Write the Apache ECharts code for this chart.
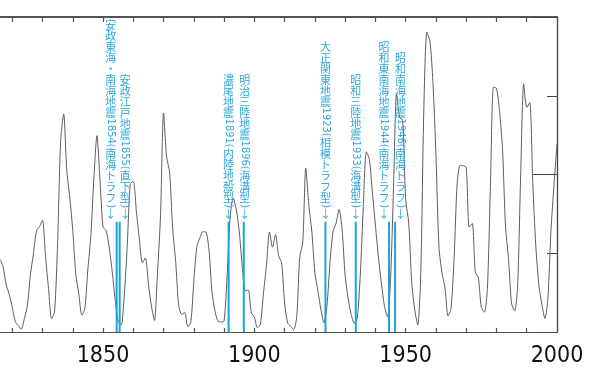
<!DOCTYPE html>
<html><head><meta charset="utf-8">
<script src="https://cdn.jsdelivr.net/npm/echarts@6/dist/echarts.min.js"></script>
<style>html,body{margin:0;padding:0;background:#fff}#c{width:605px;height:381px}</style>
</head><body><div id="c"></div>
<script>
// Yearly mean sunspot numbers, 1810-2000
const startYear = 1810;
const sunspots = [
  0.0, 1.4, 5.0, 12.2, 13.9, 35.4, 45.8, 41.1, 30.1, 23.9,
  15.6, 6.6, 4.0, 1.8, 8.5, 16.6, 36.3, 49.6, 64.2, 67.0,
  70.9, 47.8, 27.5, 8.5, 13.2, 56.9, 121.5, 138.3, 103.2, 85.7,
  64.6, 36.7, 24.2, 10.7, 15.0, 40.1, 61.5, 98.5, 124.7, 96.3,
  66.6, 64.5, 54.1, 39.0, 20.6, 6.7, 4.3, 22.7, 54.8, 93.8,
  95.8, 77.2, 59.1, 44.0, 47.0, 30.5, 16.3, 7.3, 37.6, 74.0,
  139.0, 111.2, 101.6, 66.2, 44.7, 17.0, 11.3, 12.4, 3.4, 6.0,
  32.3, 54.3, 59.7, 63.7, 63.5, 52.2, 25.4, 13.1, 6.8, 6.3,
  7.1, 35.6, 73.0, 85.1, 78.0, 64.0, 41.8, 26.2, 26.7, 12.1,
  9.5, 2.7, 5.0, 24.4, 42.0, 63.5, 53.8, 62.0, 48.5, 43.9,
  18.6, 5.7, 3.6, 1.4, 9.6, 47.4, 57.1, 103.9, 80.6, 63.6,
  37.6, 26.1, 14.2, 5.8, 16.7, 44.3, 63.9, 69.0, 77.8, 64.9,
  35.7, 21.2, 11.1, 5.7, 8.7, 36.1, 79.7, 114.4, 109.6, 88.8,
  67.8, 47.5, 30.6, 16.3, 9.6, 33.2, 92.6, 151.6, 136.3, 134.7,
  83.9, 69.4, 31.5, 13.9, 4.4, 38.0, 141.7, 190.2, 184.8, 159.0,
  112.3, 53.9, 37.5, 27.9, 10.2, 15.1, 47.0, 93.8, 105.9, 105.5,
  104.5, 66.6, 68.9, 38.0, 34.5, 15.5, 12.6, 27.5, 92.5, 155.4,
  154.7, 140.5, 115.9, 66.6, 45.9, 17.9, 13.4, 29.4, 100.2, 157.6,
  142.6, 145.7, 94.3, 54.6, 29.9, 17.5, 8.6, 21.5, 64.3, 93.3,
  119.6
];
const quakeYears = [1854, 1855, 1891, 1896, 1923, 1933, 1944, 1946];
const quakeLabels = [
  '安政東海・南海地震1854(南海トラフ)↓',
  '安政江戸地震1855(直下型)↓',
  '濃尾地震1891(内陸地殻型)↓',
  '明治三陸地震1896(海溝型)↓',
  '大正関東地震1923(相模トラフ型)↓',
  '昭和三陸地震1933(海溝型)↓',
  '昭和東南海地震1944(南海トラフ)↓',
  '昭和南海地震1946(南海トラフ)↓'
];
const xTickLabels = ['1850', '1900', '1950', '2000'];

// ---- styling / layout (not data) ----
const labelDx = [-6, 5.5, 0, 1, 0, 0, -5, 5.5];
const QCOLOR = '#1ca3d8';
const TCOLOR = '#30a8da';
const CJK = '"Noto Sans CJK JP"';
const NARROW = '"Liberation Sans Narrow","DejaVu Sans Condensed",sans-serif';
const FS = 11, PITCH = 11;
const lineTopValue = 70;

const mctx = document.createElement('canvas').getContext('2d');
function measure(t) { mctx.font = FS + 'px ' + NARROW; return mctx.measureText(t).width; }
function segments(str) {
  const segs = []; let run = '';
  for (const ch of str) {
    if (/[0-9()]/.test(ch)) { run += ch; }
    else {
      if (run) { segs.push({ t: run, rot: true }); run = ''; }
      segs.push({ t: ch, rot: false });
    }
  }
  if (run) segs.push({ t: run, rot: true });
  segs.forEach(s => { s.h = s.rot ? measure(s.t) + 1.5 : PITCH; });
  return segs;
}

const lineData = sunspots.map((v, i) => [startYear + i, v]);
const quakeData = quakeYears.map((y, i) => [y, i]);

const chart = echarts.init(document.getElementById('c'), null, { renderer: 'canvas' });
chart.setOption({
  backgroundColor: '#fff',
  animation: false,
  grid: { left: -48.3, right: 48, top: 17, bottom: 49, containLabel: false, outerBoundsMode: 'none' },
  xAxis: [{
    type: 'value', min: 1800, max: 2000, interval: 10, position: 'bottom',
    axisLine: { show: true, onZero: false, lineStyle: { color: '#555', width: 1.2 } },
    axisTick: { show: true, inside: true, length: 4, lineStyle: { color: '#555', width: 1.2 } },
    splitLine: { show: false },
    axisLabel: {
      show: true, margin: 13, color: '#111', fontSize: 23, fontFamily: NARROW,
      formatter: v => xTickLabels.indexOf(String(v)) >= 0 ? String(v) : ''
    }
  }, {
    type: 'value', min: 1800, max: 2000, interval: 10, position: 'top',
    axisLine: { show: true, onZero: false, lineStyle: { color: '#555', width: 2 } },
    axisTick: { show: true, inside: true, length: 5, lineStyle: { color: '#555', width: 1.2 } },
    splitLine: { show: false }, axisLabel: { show: false }
  }],
  yAxis: [{
    type: 'value', min: 0, max: 200, interval: 50, position: 'right',
    axisLine: { show: true, onZero: false, lineStyle: { color: '#444', width: 1.3 } },
    axisTick: { show: true, inside: true, length: 10, lineStyle: { color: '#444', width: 1 } },
    splitLine: { show: false }, axisLabel: { show: false }
  }, {
    type: 'value', min: 0, max: 200, interval: 100, position: 'right',
    axisLine: { show: false, onZero: false },
    axisTick: { show: true, inside: true, length: 24, lineStyle: { color: '#444', width: 1 } },
    splitLine: { show: false }, axisLabel: { show: false }
  }],
  series: [{
    type: 'line', data: lineData, xAxisIndex: 0, yAxisIndex: 0,
    showSymbol: false, smooth: 0.25,
    lineStyle: { color: '#5c5c5c', width: 1 }, z: 2
  }, {
    type: 'custom', data: quakeData, xAxisIndex: 0, yAxisIndex: 0, z: 3,
    renderItem: function (params, api) {
      const yr = api.value(0), i = api.value(1);
      const base = api.coord([yr + 0.5, 0]);
      const top = api.coord([yr + 0.5, lineTopValue]);
      const x = base[0];
      const children = [{
        type: 'line',
        shape: { x1: x, y1: top[1], x2: x, y2: base[1] },
        style: { stroke: QCOLOR, lineWidth: 2 }
      }];
      const segs = segments(quakeLabels[i]);
      const total = segs.reduce((a, s) => a + s.h, 0);
      let y = top[1] - 2 - total;
      const tx = x + labelDx[i];
      segs.forEach(s => {
        const cy = y + s.h / 2;
        if (s.rot) {
          children.push({
            type: 'text', x: tx, y: cy, rotation: -Math.PI / 2,
            style: { text: s.t, fill: TCOLOR, font: FS + 'px ' + NARROW, align: 'center', verticalAlign: 'middle' }
          });
        } else {
          children.push({
            type: 'text', x: tx, y: cy,
            style: { text: s.t, fill: TCOLOR, font: FS + 'px ' + CJK, align: 'center', verticalAlign: 'middle' }
          });
        }
        y += s.h;
      });
      return { type: 'group', children: children };
    }
  }]
});
</script>
</body></html>
